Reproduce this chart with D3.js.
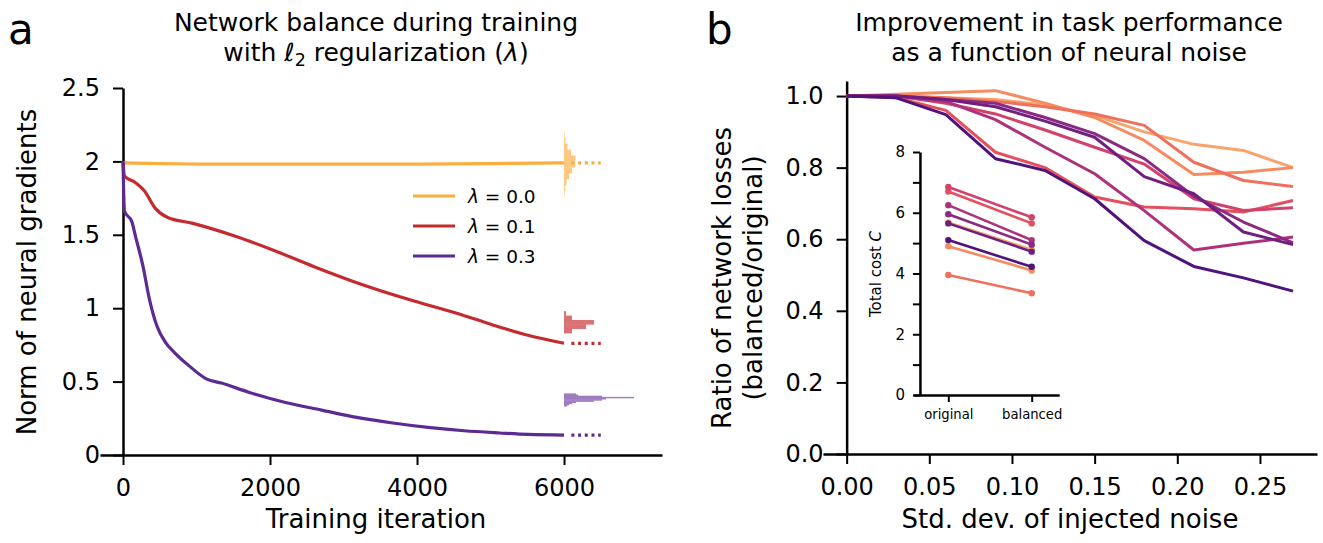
<!DOCTYPE html>
<html>
<head>
<meta charset="utf-8">
<script src="https://cdn.jsdelivr.net/npm/d3@7"></script>
<style>
  body { margin: 0; background: #fff; }
  svg { font-family: "DejaVu Sans", sans-serif; }
  .axis path, .axis line { stroke: #000; }
  .axis text { fill: #000; }
</style>
</head>
<body>
<svg id="chart" width="1323" height="543"></svg>
<script>
// ---- panel a: gradient norm during training ----
const lam00 = [[0, 1.99], [500, 1.985], [1000, 1.982], [2000, 1.981], [3000, 1.981], [4000, 1.982], [5000, 1.985], [6000, 1.99]];
const lam01 = [[0, 2.0], [20, 1.90], [170, 1.855], [290, 1.80], [440, 1.68], [600, 1.62], [950, 1.578], [1530, 1.49],
               [2020, 1.40], [2600, 1.283], [3180, 1.174], [3960, 1.049], [4540, 0.966], [5030, 0.886], [5510, 0.816], [6000, 0.761]];
const lam03 = [[0, 2.0], [20, 1.66], [120, 1.59], [170, 1.49], [270, 1.29], [360, 1.06], [460, 0.88], [580, 0.766],
               [700, 0.698], [900, 0.607], [1140, 0.517], [1340, 0.49], [1720, 0.426], [2210, 0.358], [2700, 0.306],
               [3180, 0.256], [3670, 0.218], [4150, 0.188], [4640, 0.165], [5125, 0.15], [5510, 0.14], [6000, 0.136]];
const lamLabels = ["0.0", "0.1", "0.3"];

// histograms of final gradient norms (bin centre, count)
const hist00 = [[2.18, 0.5], [2.14, 1.5], [2.10, 3.5], [2.06, 7], [2.02, 11.5], [1.98, 11], [1.94, 8], [1.90, 5], [1.86, 2.5], [1.82, 1], [1.78, 0.5]];
const hist01 = [[0.965, 2], [0.935, 8], [0.905, 30], [0.875, 22], [0.845, 8]];
const hist03 = [[0.416, 12], [0.408, 14], [0.400, 38], [0.392, 70], [0.384, 42], [0.376, 38], [0.368, 30], [0.360, 12], [0.352, 8], [0.344, 5], [0.336, 3]];

const xTicksA = [0, 2000, 4000, 6000];
const yTicksA = [0, 0.5, 1, 1.5, 2, 2.5];

// ---- panel b: loss ratio vs injected noise ----
const noiseLevels = [0, 0.03, 0.06, 0.09, 0.12, 0.15, 0.18, 0.21, 0.24, 0.27];
const ratioRuns = [
  [1, 1.0, 0.995, 0.99, 0.975, 0.946, 0.90, 0.865, 0.848, 0.80],
  [1, 1.005, 1.01, 1.015, 0.98, 0.94, 0.876, 0.781, 0.787, 0.80],
  [1, 1.0, 0.995, 0.985, 0.97, 0.95, 0.918, 0.815, 0.764, 0.747],
  [1, 0.995, 0.96, 0.843, 0.80, 0.718, 0.69, 0.685, 0.676, 0.708],
  [1, 1.0, 0.98, 0.95, 0.905, 0.857, 0.81, 0.713, 0.68, 0.688],
  [1, 1.0, 0.985, 0.934, 0.857, 0.783, 0.68, 0.57, 0.589, 0.606],
  [1, 1.0, 0.99, 0.98, 0.94, 0.895, 0.825, 0.72, 0.648, 0.59],
  [1, 1.0, 0.99, 0.97, 0.93, 0.885, 0.775, 0.727, 0.62, 0.585],
  [1, 0.995, 0.948, 0.825, 0.792, 0.713, 0.596, 0.524, 0.492, 0.455]
];
const costOriginal = [5.68, 4.9, 3.95, 6.7, 6.85, 6.25, 5.95, 5.65, 5.1];
const costBalanced = [4.78, 4.1, 3.35, 5.65, 5.85, 5.1, 4.95, 4.72, 4.22];
const insetCats = ["original", "balanced"];
const xTicksB = [0, 0.05, 0.10, 0.15, 0.20, 0.25];
const yTicksB = [0, 0.2, 0.4, 0.6, 0.8, 1.0];
const yTicksInset = [0, 1, 2, 3, 4, 5, 6, 7, 8];

// styles
const lamColors = ["#f9ae3e", "#c42a2e", "#5d2a93"];
const histColors = ["#fbc06a", "#d5595b", "#9068b8"];
const runColors = ["#f8a56d", "#f58b60", "#ef705c", "#e3505e", "#d1426c", "#ac337b", "#8b2a81", "#6e1f81", "#4f137a"];

const svg = d3.select("#chart");
const FS = 24;      // tick labels
const FL = 26;      // axis labels
const FT = 25;      // titles

function styleAxis(g, fs) {
  g.attr("class", "axis");
  g.select(".domain").attr("stroke-width", 2.5);
  g.selectAll(".tick line").attr("stroke-width", 2);
  g.selectAll(".tick text").attr("font-size", fs).attr("font-family", "DejaVu Sans");
}

// ================= panel a =================
const xa = d3.scaleLinear().domain([-313, 7333]).range([100, 662]);
const ya = d3.scaleLinear().domain([0, 2.5]).range([455, 88]);

svg.append("g").attr("transform", `translate(0,${ya(0)})`)
  .call(d3.axisBottom(xa).tickValues(xTicksA).tickSize(10).tickSizeOuter(0).tickPadding(14).tickFormat(d3.format("d")))
  .call(g => styleAxis(g, FS));
svg.append("g").attr("transform", `translate(${xa(0)},0)`)
  .call(d3.axisLeft(ya).tickValues(yTicksA).tickSize(10).tickSizeOuter(0).tickPadding(13).tickFormat(d => String(d)))
  .call(g => styleAxis(g, FS));

const lineA = d3.line().x(d => xa(d[0])).y(d => ya(d[1])).curve(d3.curveMonotoneX);
const hists = [hist00, hist01, hist03];
const histW = d3.scaleLinear().domain([0, 1]).range([0, 1]); // one count unit = one pixel
[lam00, lam01, lam03].forEach((s, i) => {
  // histogram of final values
  const h = hists[i];
  const bw = Math.abs(h[0][0] - h[1][0]);
  svg.append("g").selectAll("rect").data(h).join("rect")
    .attr("x", xa(6000))
    .attr("y", d => ya(d[0] + bw / 2))
    .attr("width", d => histW(d[1]))
    .attr("height", d => ya(d[0] - bw / 2) - ya(d[0] + bw / 2) + 0.3)
    .attr("fill", histColors[i]).attr("opacity", 0.85);
  svg.append("path").datum(s).attr("d", lineA)
    .attr("fill", "none").attr("stroke", lamColors[i]).attr("stroke-width", 3.2);
  const last = s[s.length - 1][1];
  svg.append("line")
    .attr("x1", xa(6100)).attr("x2", xa(6500))
    .attr("y1", ya(last)).attr("y2", ya(last))
    .attr("stroke", lamColors[i]).attr("stroke-width", 3.2)
    .attr("stroke-dasharray", "3,3.7");
});

// legend
const leg = svg.append("g");
lamLabels.forEach((l, i) => {
  const y = 196 + i * 30;
  leg.append("line").attr("x1", 413).attr("x2", 455).attr("y1", y).attr("y2", y)
    .attr("stroke", lamColors[i]).attr("stroke-width", 3.2);
  const t = leg.append("text").attr("x", 468).attr("y", y + 7).attr("font-size", 18.5);
  t.append("tspan").attr("font-style", "italic").text("λ");
  t.append("tspan").text(" = " + l);
});

// labels panel a
svg.append("text").attr("x", 376).attr("y", 528).attr("text-anchor", "middle").attr("font-size", FL).text("Training iteration");
svg.append("text").attr("transform", `translate(36,272) rotate(-90)`).attr("text-anchor", "middle").attr("font-size", FL).text("Norm of neural gradients");
svg.append("text").attr("x", 376).attr("y", 31).attr("text-anchor", "middle").attr("font-size", FT).text("Network balance during training");
const ta2 = svg.append("text").attr("x", 376).attr("y", 61).attr("text-anchor", "middle").attr("font-size", FT);
ta2.append("tspan").text("with ");
ta2.append("tspan").attr("font-style", "italic").text("ℓ");
ta2.append("tspan").attr("font-size", 17.5).attr("dy", 5).text("2");
ta2.append("tspan").attr("dy", -5).text(" regularization (");
ta2.append("tspan").attr("font-style", "italic").text("λ");
ta2.append("tspan").text(")");
svg.append("text").attr("x", 8).attr("y", 44).attr("font-size", 42).text("a");

// ================= panel b =================
const xb = d3.scaleLinear().domain([-0.0143, 0.2845]).range([823, 1317]);
const yb = d3.scaleLinear().domain([0, 1.042]).range([454, 81]);

svg.append("g").attr("transform", `translate(0,${yb(0)})`)
  .call(d3.axisBottom(xb).tickValues(xTicksB).tickSize(10).tickSizeOuter(0).tickPadding(14).tickFormat(d3.format(".2f")))
  .call(g => styleAxis(g, FS));
svg.append("g").attr("transform", `translate(${xb(0)},0)`)
  .call(d3.axisLeft(yb).tickValues(yTicksB).tickSize(10).tickSizeOuter(0).tickPadding(13).tickFormat(d3.format(".1f")))
  .call(g => styleAxis(g, FS));

const lineB = d3.line().x((d, i) => xb(noiseLevels[i])).y(d => yb(d));
ratioRuns.forEach((r, i) => {
  svg.append("path").datum(r).attr("d", lineB)
    .attr("fill", "none").attr("stroke", runColors[i]).attr("stroke-width", 3)
    .attr("stroke-linejoin", "round");
});

svg.append("text").attr("x", 1070).attr("y", 528).attr("text-anchor", "middle").attr("font-size", FL).text("Std. dev. of injected noise");
svg.append("text").attr("transform", `translate(731,278) rotate(-90)`).attr("text-anchor", "middle").attr("font-size", FL).text("Ratio of network losses");
svg.append("text").attr("transform", `translate(762,278) rotate(-90)`).attr("text-anchor", "middle").attr("font-size", FL).text("(balanced/original)");
svg.append("text").attr("x", 1069).attr("y", 31).attr("text-anchor", "middle").attr("font-size", FT).text("Improvement in task performance");
svg.append("text").attr("x", 1069).attr("y", 61).attr("text-anchor", "middle").attr("font-size", FT).text("as a function of neural noise");
svg.append("text").attr("x", 706).attr("y", 44).attr("font-size", 42).text("b");

// ================= inset =================
const xi = d3.scaleLinear().domain([0, 1]).range([948.3, 1031.7]);
const yi = d3.scaleLinear().domain([0, 8]).range([395, 152]);
const xiAxisScale = d3.scaleLinear().domain([-0.42, 1.33]).range([xi(-0.42), xi(1.33)]);

svg.append("g").attr("transform", `translate(0,${yi(0)})`)
  .call(d3.axisBottom(xiAxisScale).tickValues([0, 1]).tickSize(7).tickSizeOuter(0).tickPadding(8).tickFormat(d => insetCats[d]))
  .call(g => styleAxis(g, 13.2));
svg.append("g").attr("transform", `translate(${xi(-0.34)},0)`)
  .call(d3.axisLeft(yi).tickValues(yTicksInset).tickSize(7).tickSizeOuter(0).tickPadding(8).tickFormat(d => d % 2 === 0 ? String(d) : ""))
  .call(g => styleAxis(g, 15));
const tc = svg.append("text").attr("transform", `translate(881,274) rotate(-90)`).attr("text-anchor", "middle").attr("font-size", 15);
tc.append("tspan").text("Total cost ");
tc.append("tspan").attr("font-style", "italic").text("C");

costOriginal.forEach((c, i) => {
  const pts = [[0, c], [1, costBalanced[i]]];
  svg.append("path").datum(pts)
    .attr("d", d3.line().x(d => xi(d[0])).y(d => yi(d[1])))
    .attr("stroke", runColors[i]).attr("stroke-width", 2.6).attr("fill", "none");
  svg.append("g").selectAll("circle").data(pts).join("circle")
    .attr("cx", d => xi(d[0])).attr("cy", d => yi(d[1])).attr("r", 3.2)
    .attr("fill", runColors[i]);
});
</script>
</body>
</html>
